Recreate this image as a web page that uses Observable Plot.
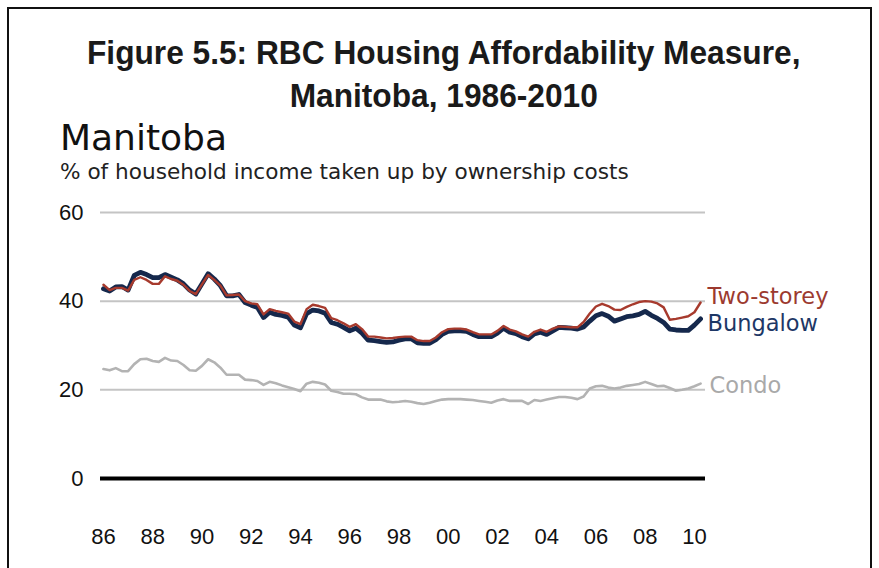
<!DOCTYPE html>
<html><head><meta charset="utf-8">
<script src="https://cdn.jsdelivr.net/npm/d3@7"></script>
<script src="https://cdn.jsdelivr.net/npm/@observablehq/plot@0.6"></script>
<style>
body{margin:0;background:#fff;overflow:hidden;width:879px;height:568px}
#frame{position:absolute;left:7px;top:7px;width:861px;height:620px;border:2px solid #111;}
#title{position:absolute;left:4px;width:879px;top:31px;text-align:center;font:bold 33px "Liberation Sans",Arial,sans-serif;line-height:43px;color:#1a1a1a;transform:scaleX(0.96);transform-origin:445px 0}
#head{position:absolute;left:60px;top:118px;font:36px "DejaVu Sans",sans-serif;color:#111;line-height:40px}
#sub{position:absolute;left:60px;top:160px;font:21.6px "DejaVu Sans",sans-serif;color:#222;line-height:24px}
#chart{position:absolute;left:0;top:200px}
</style></head>
<body>
<div id="frame"></div>
<div id="title">Figure 5.5: RBC Housing Affordability Measure,<br>Manitoba, 1986-2010</div>
<div id="head">Manitoba</div>
<div id="sub">% of household income taken up by ownership costs</div>
<div id="chart"></div>
<script>
// quarterly observations, 1986 Q1 .. 2010 Q2
const startYear = 1986;
const bungalow = [
42.8,42.3,43.2,43.3, 42.5,45.8,46.5,46.0, 45.3,45.3,46.0,45.4, 44.8,43.9,42.5,41.6,
43.9,46.2,45.0,43.5, 41.2,41.2,41.5,39.7, 39.1,38.6,36.3,37.5, 37.0,36.8,36.4,34.6,
34.0,37.2,38.0,37.8, 37.3,35.2,34.8,34.1, 33.3,33.9,32.8,31.2, 31.1,30.9,30.7,30.8,
31.2,31.5,31.5,30.6, 30.5,30.5,31.3,32.5, 33.2,33.3,33.3,33.2, 32.5,32.0,32.0,32.0,
32.8,33.9,33.0,32.7, 32.0,31.5,32.6,33.0, 32.5,33.3,34.1,34.0, 33.9,33.7,34.2,35.5,
36.7,37.2,36.6,35.5, 36.0,36.5,36.7,37.0, 37.7,36.8,36.1,35.2, 33.7,33.5,33.4,33.4,
34.6,36.0];
const twoStorey = [
43.7,42.5,43.0,43.0, 42.4,44.8,45.4,44.8, 43.9,43.9,45.6,45.0, 44.6,43.7,42.3,41.6,
43.8,45.9,44.8,43.5, 41.3,41.4,41.5,40.0, 39.5,39.3,37.0,38.2, 37.8,37.5,37.2,35.4,
34.8,38.2,39.2,38.9, 38.5,36.2,35.7,35.0, 34.2,34.8,33.7,32.0, 32.0,31.8,31.6,31.7,
31.9,32.0,32.0,31.2, 31.0,31.0,31.8,33.0, 33.7,33.8,33.8,33.6, 33.0,32.5,32.5,32.5,
33.3,34.4,33.6,33.2, 32.5,32.0,33.1,33.6, 33.1,33.8,34.3,34.2, 34.1,34.1,35.3,37.2,
38.8,39.4,38.9,38.1, 38.0,38.7,39.3,39.8, 40.0,39.9,39.5,38.6, 35.8,36.0,36.3,36.6,
37.5,39.7];
const condo = [
24.7,24.4,24.9,24.2, 24.2,25.8,26.9,27.0, 26.5,26.3,27.2,26.6, 26.5,25.6,24.4,24.3,
25.4,26.9,26.2,25.0, 23.4,23.4,23.4,22.3, 22.2,22.0,21.1,21.8, 21.5,21.0,20.6,20.2,
19.7,21.4,21.8,21.6, 21.2,19.8,19.5,19.1, 19.1,19.0,18.3,17.8, 17.8,17.8,17.4,17.2,
17.3,17.5,17.3,17.0, 16.8,17.1,17.5,17.8, 17.9,17.9,17.9,17.8, 17.7,17.5,17.3,17.1,
17.6,17.9,17.5,17.5, 17.5,16.8,17.7,17.5, 17.8,18.1,18.4,18.4, 18.2,17.9,18.5,20.3,
20.8,20.9,20.5,20.3, 20.5,20.9,21.1,21.3, 21.8,21.3,20.8,20.9, 20.4,19.8,20.0,20.3,
20.8,21.4];
const seriesNames = ["Bungalow","Two-storey","Condo"];
const xTicks = [1986,1988,1990,1992,1994,1996,1998,2000,2002,2004,2006,2008,2010];
const xTickLabels = ["86","88","90","92","94","96","98","00","02","04","06","08","10"];
const yTicks = [0,20,40,60];
const gridValues = [20,40,60];

const toRows = (vals, name) => vals.map((v, i) => ({t: startYear + i / 4, v, s: name}));
const rowsB = toRows(bungalow, seriesNames[0]);
const rowsT = toRows(twoStorey, seriesNames[1]);
const rowsC = toRows(condo, seriesNames[2]);

const navy = "#15284c", red = "#a73a2d", grey = "#b3b3b3";
const font = "'Liberation Sans', Arial, sans-serif";
const labelFont = "'DejaVu Sans', sans-serif";

const plot = Plot.plot({
  width: 879, height: 358,
  marginLeft: 100, marginRight: 174, marginTop: 12, marginBottom: 80,
  style: {fontFamily: font, fontSize: "22px", color: "#111", background: "transparent"},
  x: {domain: [1985.88, 2010.45], ticks: xTicks, tickFormat: d => xTickLabels[xTicks.indexOf(d)], tickSize: 0, tickPadding: 50, label: null},
  y: {domain: [0, 60], ticks: yTicks, tickSize: 0, tickPadding: 17, label: null},
  marks: [
    Plot.ruleY(gridValues, {stroke: "#c4c4c4", strokeWidth: 2}),
    Plot.ruleY([0], {stroke: "#000", strokeWidth: 4}),
    Plot.line(rowsC, {x: "t", y: "v", stroke: grey, strokeWidth: 2.6}),
    Plot.line(rowsB, {x: "t", y: "v", stroke: navy, strokeWidth: 4.8, strokeLinejoin: "round"}),
    Plot.line(rowsT, {x: "t", y: "v", stroke: red, strokeWidth: 2.4, strokeLinejoin: "round"}),
    Plot.text(rowsT, Plot.selectLast({x: "t", y: "v", text: "s", textAnchor: "start", dx: 7, dy: -6, fill: "#9c3a2f", fontSize: 22.5, fontFamily: labelFont})),
    Plot.text(rowsB, Plot.selectLast({x: "t", y: "v", text: "s", textAnchor: "start", dx: 7, dy: 5, fill: "#1d3766", fontSize: 22.5, fontFamily: labelFont})),
    Plot.text(rowsC, Plot.selectLast({x: "t", y: "v", text: "s", textAnchor: "start", dx: 9, dy: 2, fill: "#a9a9a9", fontSize: 22.5, fontFamily: labelFont}))
  ]
});
document.getElementById("chart").appendChild(plot);
</script>
</body></html>
